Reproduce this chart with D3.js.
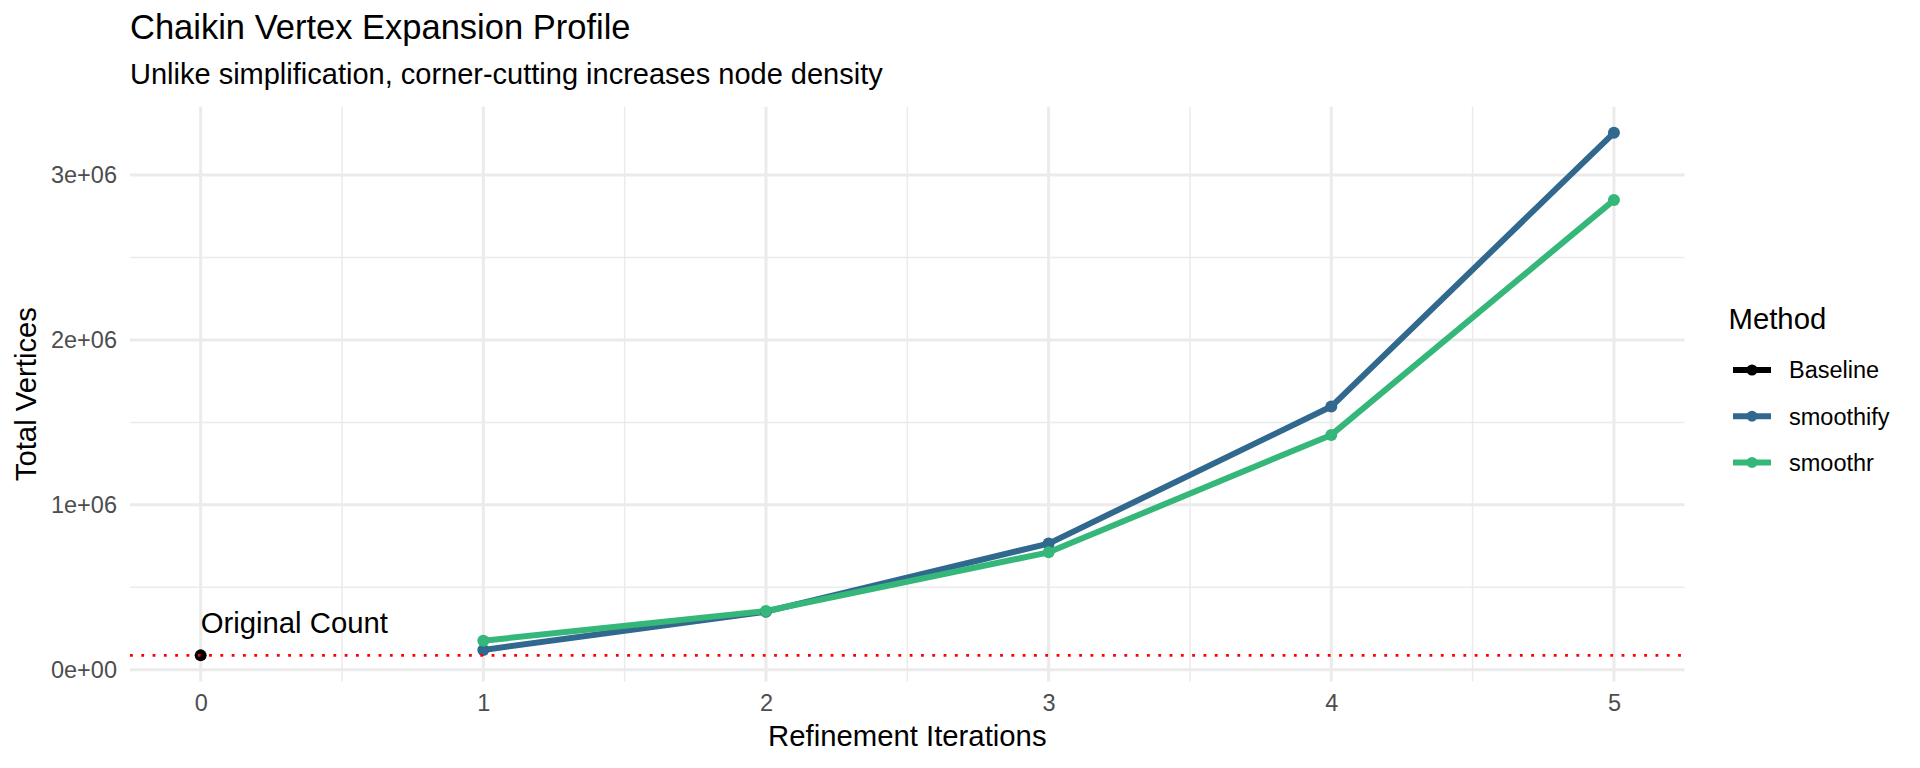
<!DOCTYPE html>
<html lang="en">
<head>
    <meta charset="utf-8">
    <title>Chaikin Vertex Expansion Profile</title>
    <script src="https://d3js.org/d3.v7.min.js"></script>
    <style>
      body { margin: 0; background: #fff; }
      svg { display: block; font-family: "Liberation Sans", Arial, sans-serif; }
    </style>
</head>
<body>
<div id="canvas"></div>

<script type="text/javascript">
// values
const iterations = [1, 2, 3, 4, 5];
const smoothify = [120000, 352000, 765000, 1596000, 3256000];
const smoothr = [176000, 356000, 712000, 1424000, 2848000];
const baselineIter = 0;
const baselineCount = 87000;
const methods = ["Baseline", "smoothify", "smoothr"];
const colors = ["#000000", "#31688E", "#35B779"];
const yTicks = [0, 1e6, 2e6, 3e6];
const xTicks = [0, 1, 2, 3, 4, 5];

const width = 1920, height = 768;
const panel = {left: 130, right: 1684.6, top: 106.7, bottom: 681.5};

const series = [
  {method: "smoothify", values: iterations.map((x, i) => ({x: x, y: smoothify[i]}))},
  {method: "smoothr", values: iterations.map((x, i) => ({x: x, y: smoothr[i]}))}
];
const color = d3.scaleOrdinal(methods, colors);

// ggplot style 5% expansion
function expand(ext) {
  const d = (ext[1] - ext[0]) * 0.05;
  return [ext[0] - d, ext[1] + d];
}
const allY = smoothify.concat(smoothr, [baselineCount]);
const x = d3.scaleLinear()
    .domain(expand([baselineIter, d3.max(iterations)]))
    .range([panel.left, panel.right]);
const y = d3.scaleLinear()
    .domain(expand(d3.extent(allY)))
    .range([panel.bottom, panel.top]);

// R style scientific labels: 1e+06
function sci(v) {
  if (v === 0) return "0e+00";
  const e = Math.floor(Math.log10(Math.abs(v)));
  const m = +(v / Math.pow(10, e)).toFixed(2);
  return m + "e" + (e < 0 ? "-" : "+") + String(Math.abs(e)).padStart(2, "0");
}

const svg = d3.select("#canvas").append("svg")
    .attr("width", width)
    .attr("height", height);

// grid
const grid = svg.append("g");
const xMinor = xTicks.slice(0, -1).map(d => d + 0.5);
const yMinor = yTicks.slice(0, -1).map(d => d + 5e5);
grid.selectAll(".xminor").data(xMinor).join("line")
    .attr("x1", d => x(d)).attr("x2", d => x(d))
    .attr("y1", panel.top).attr("y2", panel.bottom)
    .attr("stroke", "#EBEBEB").attr("stroke-width", 1.5);
grid.selectAll(".yminor").data(yMinor).join("line")
    .attr("y1", d => y(d)).attr("y2", d => y(d))
    .attr("x1", panel.left).attr("x2", panel.right)
    .attr("stroke", "#EBEBEB").attr("stroke-width", 1.5);
grid.selectAll(".xmajor").data(xTicks).join("line")
    .attr("x1", d => x(d)).attr("x2", d => x(d))
    .attr("y1", panel.top).attr("y2", panel.bottom)
    .attr("stroke", "#EBEBEB").attr("stroke-width", 3);
grid.selectAll(".ymajor").data(yTicks).join("line")
    .attr("y1", d => y(d)).attr("y2", d => y(d))
    .attr("x1", panel.left).attr("x2", panel.right)
    .attr("stroke", "#EBEBEB").attr("stroke-width", 3);

// axes (text only, like theme_minimal)
const xAxis = svg.append("g")
    .attr("transform", `translate(0,${panel.bottom})`)
    .call(d3.axisBottom(x).tickValues(xTicks).tickFormat(d3.format("d")).tickSize(0).tickPadding(13));
const yAxis = svg.append("g")
    .attr("transform", `translate(${panel.left},0)`)
    .call(d3.axisLeft(y).tickValues(yTicks).tickFormat(sci).tickSize(0).tickPadding(13));
[xAxis, yAxis].forEach(a => {
  a.select(".domain").remove();
  a.selectAll("text")
    .attr("font-family", "Liberation Sans, Arial, sans-serif")
    .attr("font-size", 23.5)
    .attr("fill", "#4D4D4D");
});
xAxis.selectAll("text").attr("dy", "0.71em");

// lines then points
const line = d3.line().x(d => x(d.x)).y(d => y(d.y));
svg.append("g").selectAll("path").data(series).join("path")
    .attr("d", d => line(d.values))
    .attr("fill", "none")
    .attr("stroke", d => color(d.method))
    .attr("stroke-width", 6)
    .attr("stroke-linejoin", "round");

const pts = svg.append("g");
pts.append("circle")
    .attr("cx", x(baselineIter)).attr("cy", y(baselineCount))
    .attr("r", 6).attr("fill", color("Baseline"));
series.forEach(s => {
  pts.selectAll(null).data(s.values).join("circle")
    .attr("cx", d => x(d.x)).attr("cy", d => y(d.y))
    .attr("r", 6).attr("fill", color(s.method));
});

// reference line at the original count
svg.append("line")
    .attr("x1", panel.left).attr("x2", panel.right)
    .attr("y1", y(baselineCount)).attr("y2", y(baselineCount))
    .attr("stroke", "#FF0000")
    .attr("stroke-width", 2.8)
    .attr("stroke-dasharray", "2.8 8.5");

svg.append("text")
    .attr("x", x(baselineIter))
    .attr("y", y(baselineCount) - 22.5)
    .attr("font-size", 29.3)
    .attr("fill", "#000")
    .text("Original Count");

// titles
svg.append("text")
    .attr("x", panel.left).attr("y", 39)
    .attr("font-size", 34.5)
    .text("Chaikin Vertex Expansion Profile");
svg.append("text")
    .attr("x", panel.left).attr("y", 83.5)
    .attr("font-size", 29)
    .text("Unlike simplification, corner-cutting increases node density");
svg.append("text")
    .attr("x", (panel.left + panel.right) / 2).attr("y", 746)
    .attr("text-anchor", "middle")
    .attr("font-size", 29.3)
    .text("Refinement Iterations");
svg.append("text")
    .attr("transform", `translate(36,${(panel.top + panel.bottom) / 2}) rotate(-90)`)
    .attr("text-anchor", "middle")
    .attr("font-size", 29.3)
    .text("Total Vertices");

// legend
const legend = svg.append("g");
legend.append("text")
    .attr("x", 1728.5).attr("y", 329)
    .attr("font-size", 29.3)
    .text("Method");
const key = legend.selectAll(".key").data(methods).join("g")
    .attr("transform", (d, i) => `translate(0,${370 + i * 46.2})`);
key.append("line")
    .attr("x1", 1733).attr("x2", 1771)
    .attr("stroke", d => color(d))
    .attr("stroke-width", 6);
key.append("circle")
    .attr("cx", 1752).attr("r", 5.5)
    .attr("fill", d => color(d));
key.append("text")
    .attr("x", 1789).attr("dy", "0.36em")
    .attr("font-size", 23.5)
    .text(d => d);
</script>
</body>
</html>
